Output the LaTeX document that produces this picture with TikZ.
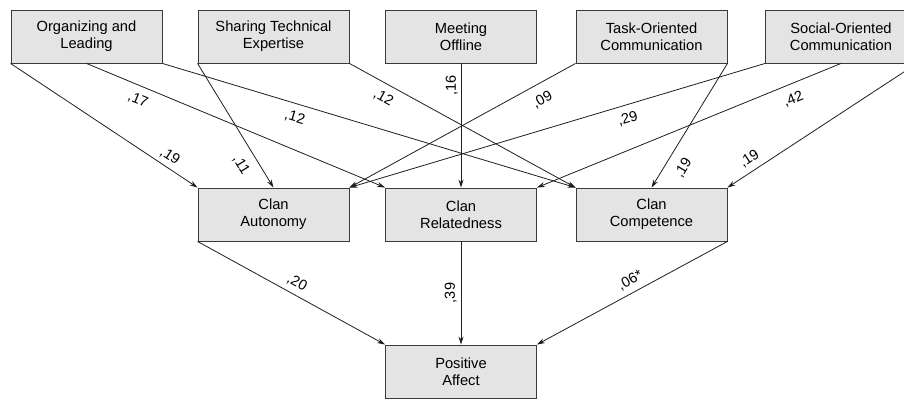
\documentclass[tikz,border=0pt]{standalone}
\usepackage{fontspec}
\setmainfont{Liberation Sans}
\usetikzlibrary{arrows.meta}
\definecolor{boxfill}{HTML}{E4E4E4}
\definecolor{boxline}{HTML}{3A3A3A}
\definecolor{arrline}{HTML}{1E1E1E}
\tikzset{
  varbox/.style={draw=boxline, fill=boxfill, line width=0.9pt, rectangle,
    minimum width=151pt, minimum height=53pt, inner sep=0pt, align=center,
    font=\fontsize{14.7}{17.3}\selectfont},
  path/.style={draw=arrline, line width=0.8pt, -{Stealth[length=8pt,width=5pt]}},
  coef/.style={font=\fontsize{14.5}{15}\selectfont, inner sep=1.5pt, sloped},
  vcoef/.style={font=\fontsize{14.5}{15}\selectfont, inner sep=2pt, rotate=90, anchor=south}
}
\begin{document}
\begin{tikzpicture}[x=1pt, y=-1pt]
\useasboundingbox (0,0) rectangle (904,399);
% top row
\node[varbox] (org)  at (86.5,36.5) {Organizing and\\Leading};
\node[varbox] (shr)  at (273.5,36.5) {Sharing Technical\\Expertise};
\node[varbox] (meet) at (461,36.5) {Meeting\\Offline};
\node[varbox] (task) at (651.5,36.5) {Task-Oriented\\Communication};
\node[varbox] (soc)  at (841,36.5) {Social-Oriented\\Communication};
% middle row
\node[varbox] (aut)  at (273.5,214.5) {Clan\\Autonomy};
\node[varbox] (rel)  at (461,214.5) {Clan\\Relatedness};
\node[varbox] (comp) at (651.5,214.5) {Clan\\Competence};
% bottom
\node[varbox] (pa)   at (461,371.5) {Positive\\Affect};
% paths
\draw[path] (org.south west) -- node[coef, pos=0.82, above=3pt] {,19} (aut.north west);
\draw[path] (org.south) -- node[coef, pos=0.19, below=6pt] {,17} (rel.north west);
\draw[path] (org.south east) -- node[coef, pos=0.33, below=6pt] {,12} (comp.north west);
\draw[path] (shr.south west) -- node[coef, pos=0.75, below=8pt] {,11} (aut.north);
\draw[path] (shr.south east) -- node[coef, pos=0.18, below=6pt] {,12} (comp.north west);
\draw[path] (meet.south) -- node[vcoef, pos=0.18, yshift=1pt] {,16} (rel.north);
\draw[path] (task.south west) -- node[coef, pos=0.18, below=8pt] {,09} (aut.north east);
\draw[path] (task.south east) -- node[coef, pos=0.77, below=9pt] {,19} (comp.north);
\draw[path] (soc.south west) -- node[coef, pos=0.34, below=6pt] {,29} (aut.north east);
\draw[path] (soc.south) -- node[coef, pos=0.175, below=7pt] {,42} (rel.north east);
\draw[path] (soc.south east) -- node[coef, pos=0.85, above=4pt] {,19} (comp.north east);
\draw[path] (aut.south west) -- node[coef, pos=0.5, above=4pt] {,20} (pa.north west);
\draw[path] (rel.south) -- node[vcoef, pos=0.5, yshift=2pt] {,39} (pa.north);
\draw[path] (comp.south east) -- node[coef, pos=0.48, above=4pt] {,06*} (pa.north east);
\end{tikzpicture}
\end{document}
